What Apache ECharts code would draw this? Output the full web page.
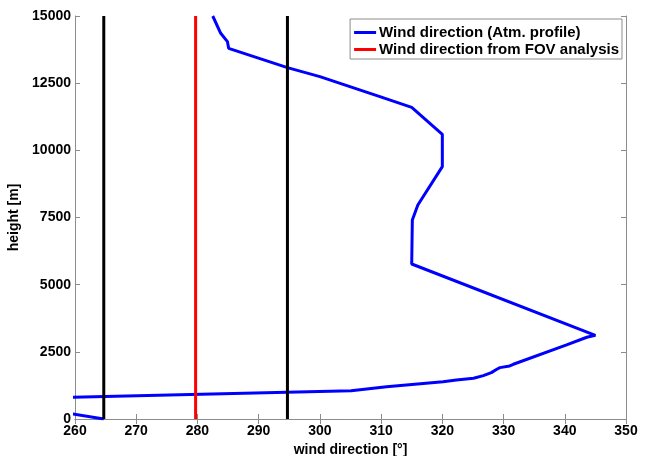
<!DOCTYPE html>
<html>
<head>
<meta charset="utf-8">
<script src="https://cdn.jsdelivr.net/npm/echarts@6/dist/echarts.min.js"></script>
<style>
  html, body { margin: 0; padding: 0; background: #fff; }
  #chart { width: 651px; height: 456px; }
</style>
</head>
<body>
<div id="chart"></div>
<script>
// wind profile, [direction deg, height m]
var profileDir = [264.7, 245, 305.1, 310.9, 320.1, 322.3, 325.1, 326.7, 328, 328.9, 329.4, 331, 331.6, 340.3, 343.6, 345,
  315, 315.1, 316, 320, 320, 315, 309.8, 300, 294.7, 285.1, 284.9, 283.8, 282.5];
var profileHeight = [0, 730, 1055, 1204, 1390, 1453, 1516, 1614, 1726, 1853, 1912, 1974, 2037, 2756, 3042, 3116,
  5770, 7408, 7966, 9393, 10596, 11600, 11997, 12742, 13077, 13797, 14044, 14356, 15000];
var fovDir = 279.7;
var fovBounds = [264.7, 294.7];
var heightRange = [0, 15000];

var font = { fontFamily: 'Liberation Sans, Arial, sans-serif', fontWeight: 'bold', fontSize: 14, color: '#000' };
var axisGray = '#8c8c8c';

function vline(x) {
  return heightRange.map(function (h) { return [x, h]; });
}

var profileData = profileDir.map(function (d, i) { return [d, profileHeight[i]]; });

var series = [
  {
    name: 'Wind direction (Atm. profile)',
    type: 'line',
    data: profileData,
    showSymbol: false,
    lineStyle: { color: '#0000ff', width: 3 },
    itemStyle: { color: '#0000ff' },
    z: 2
  },
  {
    name: 'Wind direction from FOV analysis',
    type: 'line',
    data: vline(fovDir),
    showSymbol: false,
    lineStyle: { color: '#ff0000', width: 3 },
    itemStyle: { color: '#ff0000' },
    z: 3
  }
];
fovBounds.forEach(function (b) {
  series.push({
    name: 'bound',
    type: 'line',
    data: vline(b),
    showSymbol: false,
    lineStyle: { color: '#000', width: 3 },
    z: 3
  });
});

var chart = echarts.init(document.getElementById('chart'));
chart.setOption({
  animation: false,
  grid: { left: 75, right: 25, top: 16, bottom: 37, outerBoundsMode: 'none', containLabel: false },
  legend: {
    data: ['Wind direction (Atm. profile)', 'Wind direction from FOV analysis'],
    orient: 'vertical',
    right: 29,
    top: 19,
    icon: 'rect',
    itemWidth: 22,
    itemHeight: 3,
    itemGap: 2,
    padding: [6, 3, 2, 4],
    backgroundColor: '#fff',
    borderColor: axisGray,
    borderWidth: 1,
    textStyle: { fontFamily: font.fontFamily, fontWeight: 'bold', fontSize: 15, color: '#000', padding: [0, 0, 0, -2] }
  },
  xAxis: [
    {
      type: 'value', min: 260, max: 350, interval: 10,
      name: 'wind direction [°]', nameLocation: 'middle', nameGap: 19,
      nameTextStyle: font,
      axisLine: { lineStyle: { color: axisGray } },
      axisTick: { inside: true, length: 5, lineStyle: { color: axisGray } },
      axisLabel: Object.assign({ margin: 5 }, font),
      splitLine: { show: false }
    },
    {
      type: 'value', min: 260, max: 350, interval: 10, position: 'top',
      axisLine: { show: true, lineStyle: { color: axisGray } },
      axisTick: { inside: true, length: 5, lineStyle: { color: axisGray } },
      axisLabel: { show: false },
      splitLine: { show: false }
    }
  ],
  yAxis: [
    {
      type: 'value', min: 0, max: 15000, interval: 2500,
      name: 'height [m]', nameLocation: 'middle', nameGap: 49,
      nameTextStyle: font,
      axisLine: { show: true, lineStyle: { color: axisGray } },
      axisTick: { show: true, inside: true, length: 5, lineStyle: { color: axisGray } },
      axisLabel: Object.assign({ margin: 4, formatter: function (v) { return String(v); } }, font),
      splitLine: { show: false }
    },
    {
      type: 'value', min: 0, max: 15000, interval: 2500, position: 'right',
      axisLine: { show: true, lineStyle: { color: axisGray } },
      axisTick: { show: true, inside: true, length: 5, lineStyle: { color: axisGray } },
      axisLabel: { show: false },
      splitLine: { show: false }
    }
  ],
  series: series
});
</script>
</body>
</html>
